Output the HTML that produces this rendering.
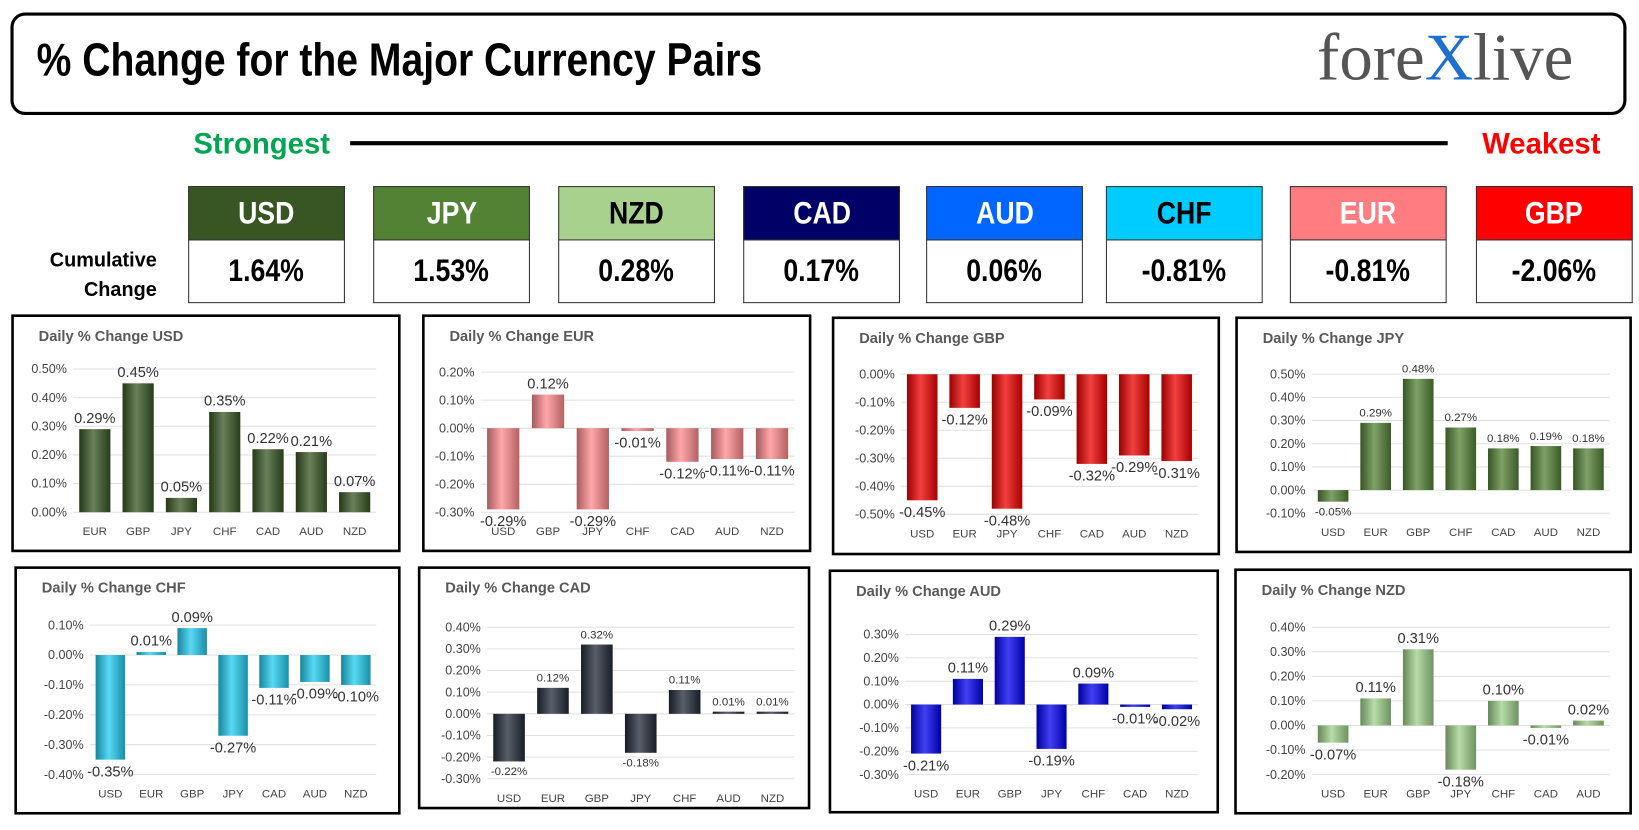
<!DOCTYPE html>
<html><head><meta charset="utf-8">
<style>
html,body{margin:0;padding:0;background:#fff;width:1639px;height:830px;overflow:hidden}
#wrap{position:absolute;left:0;top:0;width:1568px;height:794px;transform:scale(1.04528,1.04534);transform-origin:0 0;font-family:"Liberation Sans",sans-serif}
.abs{position:absolute}
.narrow{font-family:"Liberation Sans Narrow","Liberation Sans",sans-serif;font-weight:bold}
.hdr{position:absolute;width:150px;height:52px;border:1px solid #333;box-sizing:border-box;text-align:center;line-height:52px;font-size:28px}
.val{position:absolute;width:150px;height:60px;border:1px solid #333;border-top:none;box-sizing:border-box;text-align:center;line-height:60px;font-size:28px;color:#000}
.cond{display:inline-block;transform:scaleX(0.85)}
</style></head><body>
<div id="wrap">
<div class="abs" style="left:10px;top:12px;width:1540px;height:92px;border:3px solid #000;border-radius:14px"></div>
<div class="abs narrow" style="left:35px;top:33px;font-size:44px;transform:scaleX(0.85);transform-origin:0 0;white-space:nowrap">% Change for the Major Currency Pairs</div>
<div class="abs" style="left:1260px;top:18px;font-family:'Liberation Serif',serif;font-size:64px;color:#555">fore<span style="color:#1e6fd0">X</span>live</div>
<div class="abs narrow" style="left:185px;top:122px;font-size:28px;color:#00a651">Strongest</div>
<div class="abs" style="left:335px;top:135px;width:1050px;height:4px;background:#000"></div>
<div class="abs narrow" style="left:1418px;top:122px;font-size:28px;color:#ff0000">Weakest</div>
<div class="abs narrow" style="left:40px;top:236px;width:110px;text-align:right;font-size:19px;line-height:28px">Cumulative<br>Change</div>
<div id="boxes"></div>
<svg id="charts" class="abs" style="left:0;top:0" width="1568" height="794"></svg>
</div>
<script>
// Cumulative ranking
const rankCurr=["USD","JPY","NZD","CAD","AUD","CHF","EUR","GBP"];
const rankVals=["1.64%","1.53%","0.28%","0.17%","0.06%","-0.81%","-0.81%","-2.06%"];
const boxX=[180,357,534,711,886,1058,1234,1412];
const boxBg=["#375623","#548235","#a9d18e","#000066","#0066ff","#00ccff","#ff7c80","#ff0000"];
const boxFg=["#fff","#fff","#000","#fff","#fff","#000","#fff","#fff"];
const boxes=document.getElementById('boxes');
rankCurr.forEach((c,i)=>{
  const h=document.createElement('div');
  h.className='hdr narrow';
  h.style.left=boxX[i]+'px';h.style.top='178px';h.style.background=boxBg[i];h.style.color=boxFg[i];
  h.innerHTML='<span class="cond" style="font-size:30px">'+c+'</span>';
  
  
  boxes.appendChild(h);
  const v=document.createElement('div');
  v.className='val narrow';
  v.style.left=boxX[i]+'px';v.style.top='230px';
  v.innerHTML='<span class="cond" style="font-size:30px">'+rankVals[i]+'</span>';
  
  
  boxes.appendChild(v);
});

// Chart data
const usdCats=["EUR","GBP","JPY","CHF","CAD","AUD","NZD"];
const usdVals=[0.29,0.45,0.05,0.35,0.22,0.21,0.07];
const eurCats=["USD","GBP","JPY","CHF","CAD","AUD","NZD"];
const eurVals=[-0.29,0.12,-0.29,-0.01,-0.12,-0.11,-0.11];
const gbpCats=["USD","EUR","JPY","CHF","CAD","AUD","NZD"];
const gbpVals=[-0.45,-0.12,-0.48,-0.09,-0.32,-0.29,-0.31];
const jpyCats=["USD","EUR","GBP","CHF","CAD","AUD","NZD"];
const jpyVals=[-0.05,0.29,0.48,0.27,0.18,0.19,0.18];
const chfCats=["USD","EUR","GBP","JPY","CAD","AUD","NZD"];
const chfVals=[-0.35,0.01,0.09,-0.27,-0.11,-0.09,-0.10];
const cadCats=["USD","EUR","GBP","JPY","CHF","AUD","NZD"];
const cadVals=[-0.22,0.12,0.32,-0.18,0.11,0.01,0.01];
const audCats=["USD","EUR","GBP","JPY","CHF","CAD","NZD"];
const audVals=[-0.21,0.11,0.29,-0.19,0.09,-0.01,-0.02];
const nzdCats=["USD","EUR","GBP","JPY","CHF","CAD","AUD"];
const nzdVals=[-0.07,0.11,0.31,-0.18,0.10,-0.01,0.02];

const charts=[
 {id:"usd",title:"Daily % Change USD",cats:usdCats,vals:usdVals,min:0,max:0.5,box:[12,302,370,225],plot:[70,353,360,490],col:"#375623",fs:14},
 {id:"eur",title:"Daily % Change EUR",cats:eurCats,vals:eurVals,min:-0.3,max:0.2,box:[405,302,370,225],plot:[460,356,760,490],col:"#ff8a8e",fs:14},
 {id:"gbp",title:"Daily % Change GBP",cats:gbpCats,vals:gbpVals,min:-0.5,max:0,box:[797,304,369,226],plot:[862,358,1146,492],col:"#ee0000",fs:14},
 {id:"jpy",title:"Daily % Change JPY",cats:jpyCats,vals:jpyVals,min:-0.1,max:0.5,box:[1183,304,377,224],plot:[1255,358,1540,491],col:"#548235",fs:11},
 {id:"chf",title:"Daily % Change CHF",cats:chfCats,vals:chfVals,min:-0.4,max:0.1,box:[15,543,367,235],plot:[86,598,360,741],col:"#22ccf0",fs:14},
 {id:"cad",title:"Daily % Change CAD",cats:cadCats,vals:cadVals,min:-0.3,max:0.4,box:[401,543,373,230],plot:[466,600,760,745],col:"#222a38",fs:11},
 {id:"aud",title:"Daily % Change AUD",cats:audCats,vals:audVals,min:-0.3,max:0.3,box:[794,546,371,231],plot:[866,607,1146,741],col:"#0000ee",fs:14},
 {id:"nzd",title:"Daily % Change NZD",cats:nzdCats,vals:nzdVals,min:-0.2,max:0.4,box:[1182,545,378,233],plot:[1255,600,1540,741],col:"#9fd08a",fs:14}
];
const NS="http://www.w3.org/2000/svg";
const svg=document.getElementById('charts');
const defs=document.createElementNS(NS,'defs');svg.appendChild(defs);
function mk(tag,attrs,parent){const e=document.createElementNS(NS,tag);for(const k in attrs)e.setAttribute(k,attrs[k]);(parent||svg).appendChild(e);return e;}
function shade(hex,f){const n=parseInt(hex.slice(1),16);let r=n>>16,g=(n>>8)&255,b=n&255;
 const m=c=>Math.max(0,Math.min(255,Math.round(f<0?c*(1+f):c+(255-c)*f)));return `rgb(${m(r)},${m(g)},${m(b)})`;}
charts.forEach(c=>{
  const gid='g-'+c.id;
  const lg=mk('linearGradient',{id:gid,x1:0,x2:1,y1:0,y2:0},defs);
  mk('stop',{offset:'0',"stop-color":shade(c.col,-0.35)},lg);
  mk('stop',{offset:'0.45',"stop-color":shade(c.col,0.25)},lg);
  mk('stop',{offset:'1',"stop-color":shade(c.col,-0.3)},lg);
  const g=mk('g',{});
  
  
  const [bx,by,bw,bh]=c.box;
  const panel=mk('rect',{x:bx,y:by,width:bw,height:bh,fill:'#fff',stroke:'#000','stroke-width':2.5},g);
  
  
  const t=mk('text',{x:bx+25,y:by+24,'font-size':14,'font-weight':'bold',fill:'#595959'},g);
  t.textContent=c.title;
  
  
  const [l,top,r,bot]=c.plot;
  const y=v=>top+(c.max-v)/(c.max-c.min)*(bot-top);
  const steps=Math.round((c.max-c.min)/0.1);
  for(let i=0;i<=steps;i++){
    const v=c.min+i*0.1;
    mk('line',{x1:l,x2:r,y1:y(v),y2:y(v),stroke:'#e0e0e0','stroke-width':1},g);
    const tt=mk('text',{x:l-6,y:y(v)+4,'font-size':12,'text-anchor':'end',fill:'#444'},g);
    tt.textContent=v.toFixed(2).replace('-0.00','0.00')+'%';
    
    
  }
  const band=(r-l)/c.cats.length, bwid=band*0.72;
  c.cats.forEach((cat,i)=>{
    const v=c.vals[i], cx=l+band*(i+0.5);
    const y0=y(0), y1=y(v);
    const rect=mk('rect',{x:cx-bwid/2,y:Math.min(y0,y1),width:bwid,height:Math.max(1.5,Math.abs(y1-y0)),fill:`url(#${gid})`},g);
    
    
    const lt=mk('text',{x:cx,y:v>=0?y1-6:y1+c.fs+2,'font-size':c.fs,'text-anchor':'middle',fill:'#333'},g);
    lt.textContent=v.toFixed(2)+'%';
    
    
    const ct=mk('text',{x:cx,y:bot+22,'font-size':11,'text-anchor':'middle',fill:'#444'},g);
    ct.textContent=cat;
    
    
  });
});
</script>
</body></html>
